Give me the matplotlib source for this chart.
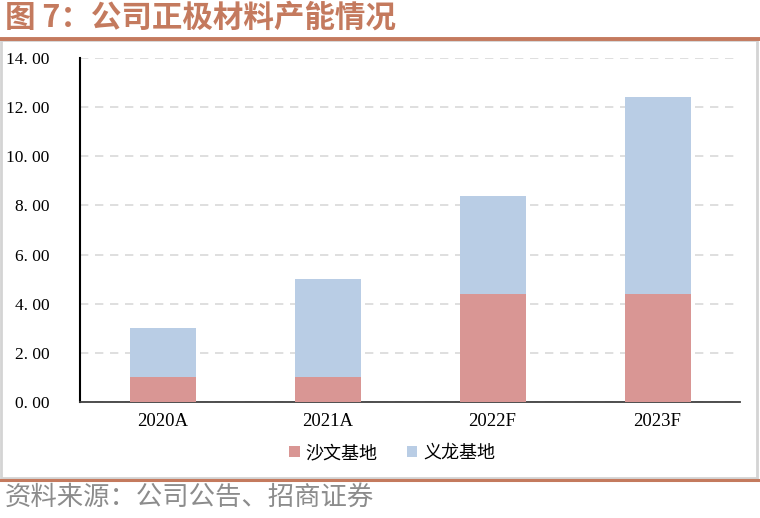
import matplotlib
matplotlib.use("Agg")
import matplotlib.pyplot as plt
from matplotlib.lines import Line2D
from matplotlib.patches import Rectangle

categories = ["2020A", "2021A", "2022F", "2023F"]
shawen = [1.0, 1.0, 4.4, 4.4]
yilong = [2.0, 4.0, 4.0, 8.0]
series_names = ["沙文基地", "义龙基地"]
yticks = [0, 2, 4, 6, 8, 10, 12, 14]
title = "图 7：公司正极材料产能情况"
source = "资料来源：公司公告、招商证券"

c_red = "#D99694"
c_blue = "#B9CDE5"
c_accent = "#C47A5E"

cjk = ["Noto Sans CJK SC", "DejaVu Sans"]
serif = ["Liberation Serif", "DejaVu Serif"]

fig = plt.figure(figsize=(7.6, 5.18), dpi=100)

# frame box
fig.add_artist(Rectangle((1/760, 1 - 478/518), 756/760, 438/518, transform=fig.transFigure,
                         fill=False, edgecolor="#D4D4D4", linewidth=2.0))
# title + rules
fig.text(5/760, 1 - 18/518, title, fontsize=22, fontweight="bold", color=c_accent,
         family=cjk, va="center", ha="left")
fig.add_artist(Line2D([0, 1], [1 - 39/518, 1 - 39/518], transform=fig.transFigure,
                      color=c_accent, linewidth=2.8))
fig.add_artist(Line2D([0, 1], [1 - 479.5/518, 1 - 479.5/518], transform=fig.transFigure,
                      color=c_accent, linewidth=2.2))
fig.text(5/760, 1 - 497/518, source, fontsize=19, color="#8C8C8C",
         family=cjk, va="center", ha="left")

ax = fig.add_axes([80/760, 1 - 402/518, 660/760, 344/518])
x = list(range(len(categories)))
ax.bar(x, shawen, width=0.4, color=c_red, label=series_names[0], zorder=3)
ax.bar(x, yilong, width=0.4, bottom=shawen, color=c_blue, label=series_names[1], zorder=3)

ax.set_xlim(-0.5, len(categories) - 0.5)
ax.set_ylim(0, 14)
ax.set_yticks(yticks)
ax.set_yticklabels([f"{v:.2f}".replace(".", ". ") for v in yticks], family=serif, fontsize=12.5)
ax.set_xticks(x)
ax.set_xticklabels(categories, family=serif, fontsize=13.5)
ax.tick_params(axis="both", length=0)
ax.tick_params(axis="x", pad=8)
ax.tick_params(axis="y", pad=22)
ax.yaxis.grid(True, linestyle=(0, (5, 4)), color="#D9D9D9", linewidth=1.2, zorder=0)
ax.set_axisbelow(True)
for s in ["top", "right"]:
    ax.spines[s].set_visible(False)
ax.spines["left"].set_color("black")
ax.spines["left"].set_linewidth(1.5)
ax.spines["bottom"].set_color("#404040")
ax.spines["bottom"].set_linewidth(1.3)

leg = ax.legend(loc="center", bbox_to_anchor=(0.473, -0.148), ncol=2, frameon=False,
                prop={"family": cjk, "size": 13}, handlelength=0.6, handleheight=0.6,
                handletextpad=0.3, columnspacing=1.6)

fig.savefig("out.png", dpi=100, facecolor="white")
